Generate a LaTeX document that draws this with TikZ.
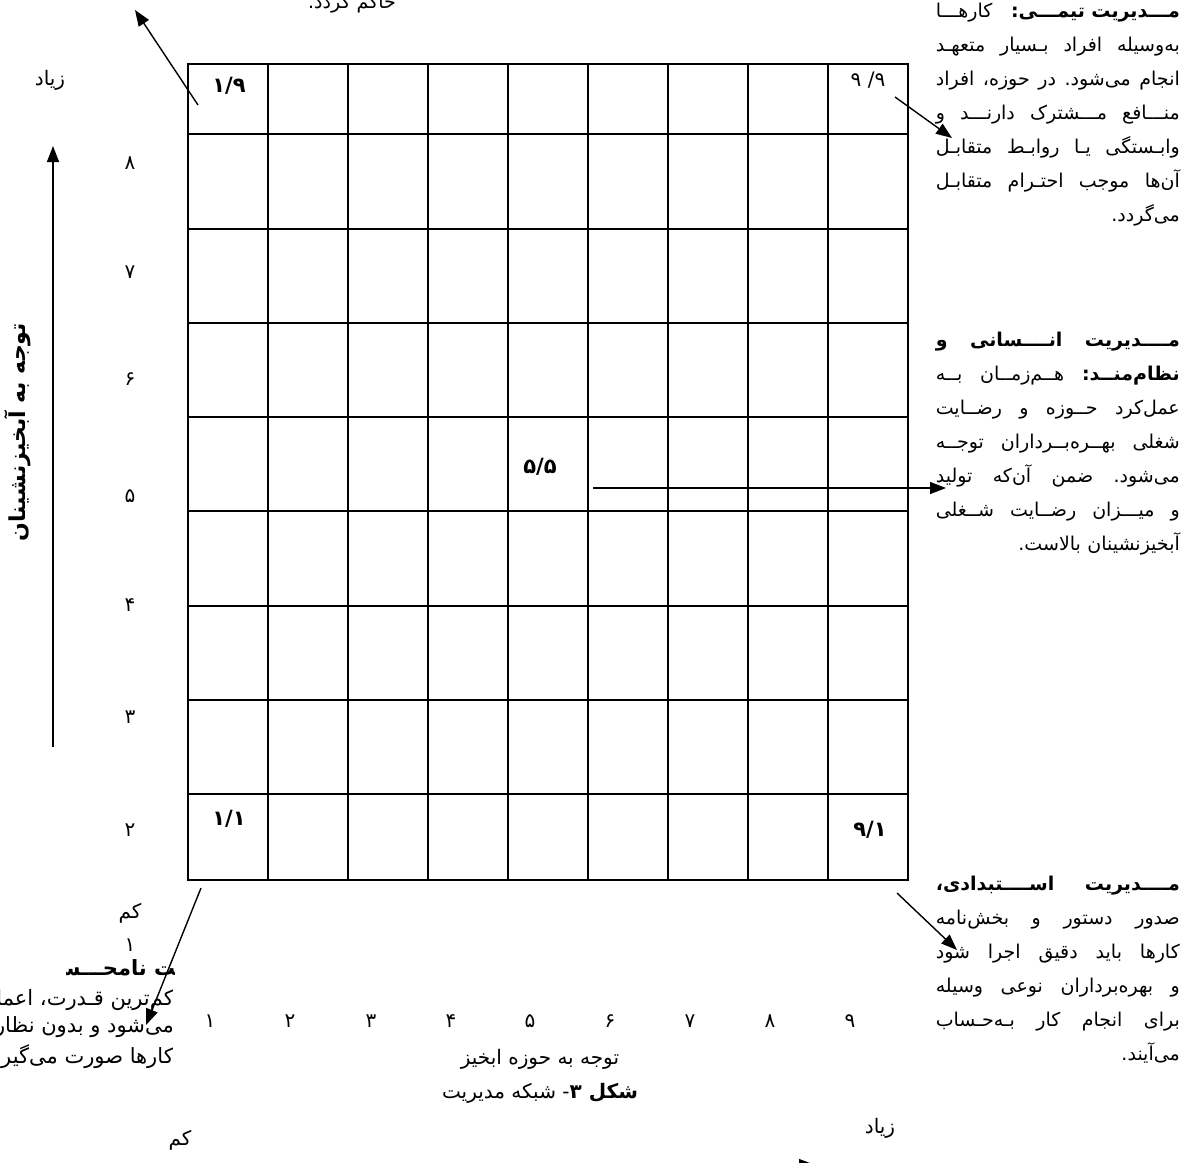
\documentclass[tikz,border=0pt]{standalone}
\usepackage{fontspec}
\usetikzlibrary{arrows.meta}
\newfontfamily\fa[Script=Arabic]{DejaVu Sans}
\TeXXeTstate=1
\newlength{\linew}
\setlength{\linew}{244pt}
% one right-to-left line
\newcommand{\rl}[1]{\leavevmode\beginR #1\endR}
% words of a justified line, split at the spaces
\def\jlwords#1 #2\jlend{#1\if\relax\detokenize{#2}\relax\else
  \hskip .25em plus 1fill\jlwords#2\jlend\fi}
\newcommand{\jl}[1]{\leavevmode\hbox to \linew{\beginR\jlwords#1 \jlend\endR}}

\begin{document}
\begin{tikzpicture}[x=1pt,y=-1pt,>={Triangle[length=16pt,width=12pt]},
  every node/.style={inner sep=0pt,font=\fa\fontsize{20}{34}\selectfont},
  gridline/.style={line width=1.8pt,line cap=rect},
  pointer/.style={->,line width=1.4pt},
  cell/.style={font=\fa\bfseries\fontsize{21}{24}\selectfont},
  tick/.style={font=\fa\fontsize{20}{24}\selectfont},
  note/.style={text width=\linew,align=right,anchor=north east,
    font=\fa\fontsize{19}{34}\selectfont},
  cutnote/.style={anchor=east,font=\fa\fontsize{21}{24}\selectfont}]
  \useasboundingbox (0,0) rectangle (1185,1162);
  % grid
  \foreach \c in {0,...,9}
    \draw[gridline] (188+80*\c,64) -- (188+80*\c,880);
  \foreach \r in {64,134,229,323,417,511,606,700,794,880}
    \draw[gridline] (188,\r) -- (908,\r);
  \node[cell] (c19) at (229,86) {۱/۹};
  \node[tick] (c99) at (868,80) {\hbox{۹}\ \hbox{/}\hbox{۹}};
  \node[cell] (c55) at (540,467) {۵/۵};
  \node[cell] (c11) at (229,819) {۱/۱};
  \node[cell] (c91) at (870,830) {۹/۱};
  % vertical axis
  \node (more) at (50,80) {\rl{زیاد}};
  \foreach \d/\y [count=\i] in {۸/163,۷/272,۶/379,۵/496,۴/605,۳/717,۲/830,۱/945}
    \node[tick] (yt\i) at (130,\y) {\d};
  \node (less) at (130,913) {\rl{کم}};
  \coordinate (ybot) at (53,747);
  \coordinate (ytop) at (53,146);
  \draw[pointer] (ybot) -- (ytop);
  \node[rotate=90,font=\fa\bfseries\fontsize{22}{24}\selectfont] (ylabel)
    at (18,432) {\rl{توجه به آبخیزنشینان}};
  % horizontal axis
  \foreach \d/\x [count=\i] in {۱/210,۲/290,۳/371,۴/451,۵/530,۶/610,۷/690,۸/770,۹/850}
    \node[tick] (xt\i) at (\x,1021) {\d};
  \node (xlabel) at (540,1059) {\rl{توجه به حوزه ابخیز}};
  \node (caption) at (540,1093) {\rl{{\bfseries شکل ۳}- شبکه مدیریت}};
  \node (lessb) at (180,1140) {\rl{کم}};
  \node (moreb) at (880,1128) {\rl{زیاد}};
  \coordinate (xbot) at (250,1165);
  \coordinate (xtop) at (815,1165);
  \draw[pointer] (xbot) -- (xtop);
  % notes
  \node[font=\fa\fontsize{19}{34}\selectfont] (club) [anchor=base] at (352,8)
    {\rl{حاکم گردد.}};
  \node[note] (team) at (1180,3) {%
    \jl{\textbf{مـــدیریت تیمـــی:} کارهـــا}\\
    \jl{به‌وسیله افراد بـسیار متعهـد}\\
    \jl{انجام می‌شود. در حوزه، افراد}\\
    \jl{منـــافع مـــشترک دارنـــد و}\\
    \jl{وابـستگی یـا روابـط متقابـل}\\
    \jl{آن‌ها موجب احتـرام متقابـل}\\
    \rl{می‌گردد.}};
  \node[note] (middle) at (1180,332) {%
    \jl{\textbf{مــــدیریت} \textbf{انــــسانی} \textbf{و}}\\
    \jl{\textbf{نظام‌منــد:} هــم‌زمــان بــه}\\
    \jl{عمل‌کرد حــوزه و رضــایت}\\
    \jl{شغلی بهــره‌بــرداران توجــه}\\
    \jl{می‌شود. ضمن آن‌که تولید}\\
    \jl{و میـــزان رضــایت شــغلی}\\
    \rl{آبخیزنشینان بالاست.}};
  \node[note] (task) at (1180,876) {%
    \jl{\textbf{مــــدیریت} \textbf{اســــتبدادی،}}\\
    \jl{صدور دستور و بخش‌نامه}\\
    \jl{کارها باید دقیق اجرا شود}\\
    \jl{و بهره‌برداران نوعی وسیله}\\
    \jl{برای انجام کار بـه‌حـساب}\\
    \rl{می‌آیند.}};
  % note of cell 1/1, cut at both sides
  \begin{scope}
    \clip (66,950) rectangle (174,986);
    \node[cutnote,font=\fa\bfseries\fontsize{21}{24}\selectfont] (weak)
      at (252,970) {\rl{مـــدیریت نامحـــسوس}};
  \end{scope}
  \begin{scope}
    \clip (0,986) rectangle (172,1075);
    \node[cutnote] (weak2) at (174,1000) {\rl{کم‌ترین قـدرت، اعمال}};
    \node[cutnote] (weak3) at (174,1027) {\rl{می‌شود و بدون نظارت}};
    \node[cutnote] (weak4) at (174,1057) {\rl{کارها صورت می‌گیرد}};
  \end{scope}
  % pointers to the notes
  \coordinate (a19) at (198,105);
  \coordinate (b19) at (135,10);
  \draw[pointer] (a19) -- (b19);
  \coordinate (a99) at (895,97);
  \coordinate (b99) at (952,138);
  \draw[pointer] (a99) -- (b99);
  \coordinate (a55) at (593,488);
  \coordinate (b55) at (946,488);
  \draw[pointer] (a55) -- (b55);
  \coordinate (a91) at (897,893);
  \coordinate (b91) at (957,950);
  \draw[pointer] (a91) -- (b91);
  \coordinate (a11) at (201,888);
  \coordinate (b11) at (146,1025);
  \draw[pointer] (a11) -- (b11);
\end{tikzpicture}
\end{document}
